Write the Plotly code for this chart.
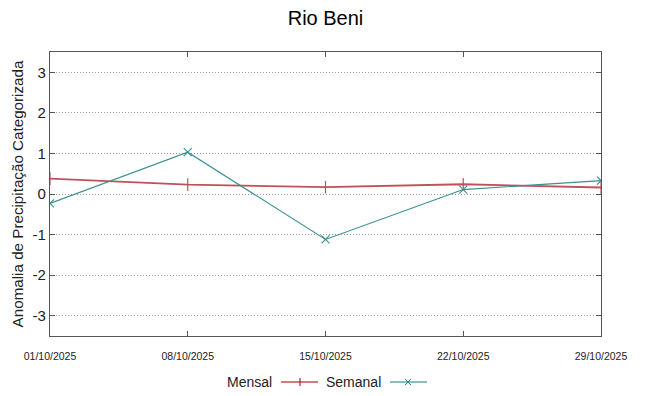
import plotly.graph_objects as go

dates = ["2025-10-01", "2025-10-08", "2025-10-15", "2025-10-22", "2025-10-29"]
tick_labels = ["01/10/2025", "08/10/2025", "15/10/2025", "22/10/2025", "29/10/2025"]
mensal = [0.38, 0.23, 0.17, 0.24, 0.16]
semanal = [-0.23, 1.03, -1.12, 0.11, 0.33]
y_ticks = [-3, -2, -1, 0, 1, 2, 3]
y_tick_labels = ["-3", "-2", "-1", "0", "1", "2", "3"]

RED = "#c0505a"
TEAL = "#3a8f8f"
FONT = "Liberation Sans Narrow, Liberation Sans, Arial"

fig = go.Figure()
fig.add_trace(go.Scatter(x=dates, y=mensal, mode="lines+markers", name="Mensal",
                         line=dict(color=RED, width=1.8),
                         marker=dict(symbol="line-ns", size=9, line=dict(color=RED, width=1.2))))
fig.add_trace(go.Scatter(x=dates, y=semanal, mode="lines+markers", name="Semanal",
                         line=dict(color=TEAL, width=1.2),
                         marker=dict(symbol="x-thin", size=8, line=dict(color=TEAL, width=1.1))))

fig.update_layout(
    width=649, height=396,
    margin=dict(l=50, r=48, t=52, b=60, autoexpand=False),
    paper_bgcolor="white", plot_bgcolor="white",
    showlegend=False,
    title=dict(text="Rio Beni", x=0.5, xanchor="center", xref="paper",
               y=1 - 18 / 396, yref="container", yanchor="middle", automargin=False,
               font=dict(family="Liberation Sans, Arial", size=20, color="black")),
    font=dict(family=FONT, color="#222"),
)
fig.update_xaxes(type="date", range=[dates[0], dates[-1]], tickvals=dates, ticktext=tick_labels,
                 ticks="inside", ticklen=5, tickcolor="#555", mirror="allticks", automargin=False,
                 ticklabelstandoff=10,
                 showline=True, linecolor="#555", linewidth=1.2, showgrid=False, zeroline=False,
                 tickfont=dict(family=FONT, size=10.5, color="#222"))
fig.update_yaxes(range=[-3.5, 3.5], tickvals=y_ticks, ticktext=y_tick_labels,
                 ticks="inside", ticklen=5, tickcolor="#555", automargin=False,
                 mirror="allticks", showline=True, linecolor="#555", linewidth=1.2,
                 showgrid=True, gridcolor="#999999", griddash="1px,2px", gridwidth=1, zeroline=False,
                 tickfont=dict(family="Liberation Sans, Arial", size=15, color="#222"),
                 title=dict(text="Anomalia de Precipitação Categorizada", standoff=5,
                            font=dict(family="Liberation Sans, Arial", size=15.2, color="#222")))

# manual gnuplot-style legend (text before sample)
def px(v):
    return (v - 50) / 551

leg_y = -(382 - 336) / 284
fig.add_annotation(text="Mensal", xref="paper", yref="paper", x=px(274), y=leg_y,
                   xanchor="right", yanchor="middle", showarrow=False,
                   font=dict(family=FONT, size=14, color="#222"))
fig.add_annotation(text="Semanal", xref="paper", yref="paper", x=px(383), y=leg_y,
                   xanchor="right", yanchor="middle", showarrow=False,
                   font=dict(family=FONT, size=14, color="#222"))
dy = 4 / 284
fig.add_shape(type="line", xref="paper", yref="paper", x0=px(281), x1=px(318), y0=leg_y, y1=leg_y,
              line=dict(color="#a00000", width=1.2))
fig.add_shape(type="line", xref="paper", yref="paper", x0=px(300), x1=px(300), y0=leg_y - dy, y1=leg_y + dy,
              line=dict(color="#a00000", width=1))
fig.add_shape(type="line", xref="paper", yref="paper", x0=px(390), x1=px(427), y0=leg_y, y1=leg_y,
              line=dict(color="#1a7f7f", width=1.2))
fig.add_shape(type="line", xref="paper", yref="paper", x0=px(405), x1=px(411), y0=leg_y - dy * 0.8, y1=leg_y + dy * 0.8,
              line=dict(color="#1a7f7f", width=1))
fig.add_shape(type="line", xref="paper", yref="paper", x0=px(405), x1=px(411), y0=leg_y + dy * 0.8, y1=leg_y - dy * 0.8,
              line=dict(color="#1a7f7f", width=1))

fig.write_html("out.html", config={"displayModeBar": False},
               post_script="document.body.style.margin='0';document.body.style.overflow='hidden';")
